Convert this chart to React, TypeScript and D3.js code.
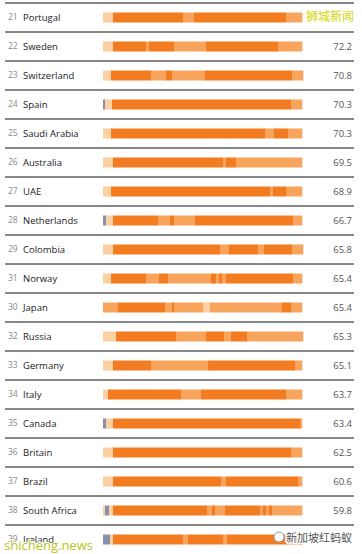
import React from 'react';
import * as d3 from 'd3';

// ranks, countries, values (Portugal / Ireland values are hidden under watermarks)
const ranks = [21, 22, 23, 24, 25, 26, 27, 28, 29, 31, 30, 32, 33, 34, 35, 36, 37, 38, 39];
const countries = ['Portugal', 'Sweden', 'Switzerland', 'Spain', 'Saudi Arabia', 'Australia', 'UAE', 'Netherlands', 'Colombia', 'Norway', 'Japan', 'Russia', 'Germany', 'Italy', 'Canada', 'Britain', 'Brazil', 'South Africa', 'Ireland'];
const values = [null, '72.2', '70.8', '70.3', '70.3', '69.5', '68.9', '66.7', '65.8', '65.4', '65.4', '65.3', '65.1', '63.7', '63.4', '62.5', '60.6', '59.8', null];

// strip segments per country: [level, length] (0 grey, 1 very light, 2 light, 3 dark)
const strips: number[][][] = [
  [[1, 10], [3, 70], [2, 11], [3, 92], [2, 16]],
  [[1, 10], [3, 33], [2, 3], [3, 25], [2, 32], [3, 72], [2, 24]],
  [[1, 8], [3, 40], [2, 15], [3, 6], [2, 33], [3, 87], [2, 11]],
  [[0, 2], [1, 7], [3, 179], [2, 11]],
  [[1, 8], [3, 154], [2, 9], [3, 14], [2, 14]],
  [[1, 10], [3, 110], [2, 3], [3, 10], [2, 66]],
  [[1, 8], [3, 159], [2, 3], [3, 13], [2, 16]],
  [[0, 3], [1, 7], [3, 45], [2, 12], [3, 4], [2, 21], [3, 98], [2, 9]],
  [[1, 10], [3, 107], [2, 9], [3, 29], [2, 6], [3, 28], [2, 11]],
  [[1, 8], [3, 35], [2, 13], [3, 9], [2, 43], [3, 5], [2, 3], [3, 3], [2, 4], [3, 67], [2, 9]],
  [[2, 15], [3, 47], [2, 7], [3, 2], [2, 29], [1, 7], [2, 72], [3, 9], [2, 11]],
  [[1, 13], [3, 60], [2, 30], [3, 18], [2, 7], [3, 16], [2, 56]],
  [[1, 10], [3, 38], [2, 57], [3, 87], [2, 7]],
  [[1, 5], [3, 73], [2, 20], [3, 85], [2, 16]],
  [[0, 3], [1, 7], [3, 187], [2, 2]],
  [[1, 10], [3, 178], [2, 11]],
  [[1, 10], [3, 108], [2, 5], [3, 72], [2, 4]],
  [[1, 2], [0, 4], [1, 4], [3, 94], [2, 5], [3, 3], [2, 10], [3, 35], [2, 3], [3, 3], [2, 3], [3, 3], [2, 30]],
  [[0, 7], [1, 3], [3, 70], [2, 5], [3, 35], [2, 4], [3, 75]],
];

const levelColors = ['#8a90a8', '#fcd0a2', '#f9a45c', '#f47c20'];

const width = 362;
const height = 554;

const App = () => {
  const y = d3.scaleBand<number>()
    .domain(d3.range(countries.length))
    .range([3, 3 + 29 * countries.length]);
  const x = d3.scaleLinear().domain([0, 199]).range([103, 302]);
  const barH = 10;
  const font = '"Open Sans", "Noto Sans", sans-serif';

  return (
    <svg width={width} height={height} style={{ position: 'fixed', left: 0, top: 0, background: '#fff' }}>
      {countries.map((c, i) => {
        const top = y(i) as number;
        const cy = top + y.bandwidth() / 2;
        const ends = Array.from(d3.cumsum(strips[i], (s) => s[1]));
        return (
          <g key={c}>
            <line x1={5} x2={354} y1={top} y2={top} stroke="#111" strokeWidth={1} />
            <text x={8} y={cy} dy="0.35em" fontSize={8.5} fill="#888" fontFamily={font}>{ranks[i]}</text>
            <text x={23} y={cy} dy="0.35em" fontSize={9.5} fill="#1a1a1a" fontFamily={font}>{c}</text>
            {strips[i].map((s, j) => (
              <rect key={j}
                x={x(ends[j] - s[1])}
                width={x(ends[j]) - x(ends[j] - s[1]) + 0.3}
                y={cy - barH / 2}
                height={barH}
                fill={levelColors[s[0]]} />
            ))}
            {values[i] && (
              <text x={352} y={cy} dy="0.35em" textAnchor="end" fontSize={9.5} fill="#555" fontFamily={font}>{values[i]}</text>
            )}
          </g>
        );
      })}
      {/* watermarks */}
      <text x={354} y={17} dy="0.35em" textAnchor="end" fontSize={12} fill="#cdd800"
        stroke="#fff" strokeWidth={2} paintOrder="stroke" fontFamily='"Noto Sans CJK SC", sans-serif'>狮城新闻</text>
      <text x={4} y={550} fontSize={13} fill="#b9c51e" stroke="#fff" strokeWidth={2} paintOrder="stroke"
        fontFamily={font}>shicheng.news</text>
      <circle cx={279} cy={537} r={5} fill="#fff" stroke="#999" strokeWidth={1} />
      <text x={352} y={538} dy="0.35em" textAnchor="end" fontSize={11} fill="#555" stroke="#fff" strokeWidth={2.5}
        paintOrder="stroke" fontFamily='"Noto Sans CJK SC", sans-serif'>新加坡红蚂蚁</text>
    </svg>
  );
};

export default App;
